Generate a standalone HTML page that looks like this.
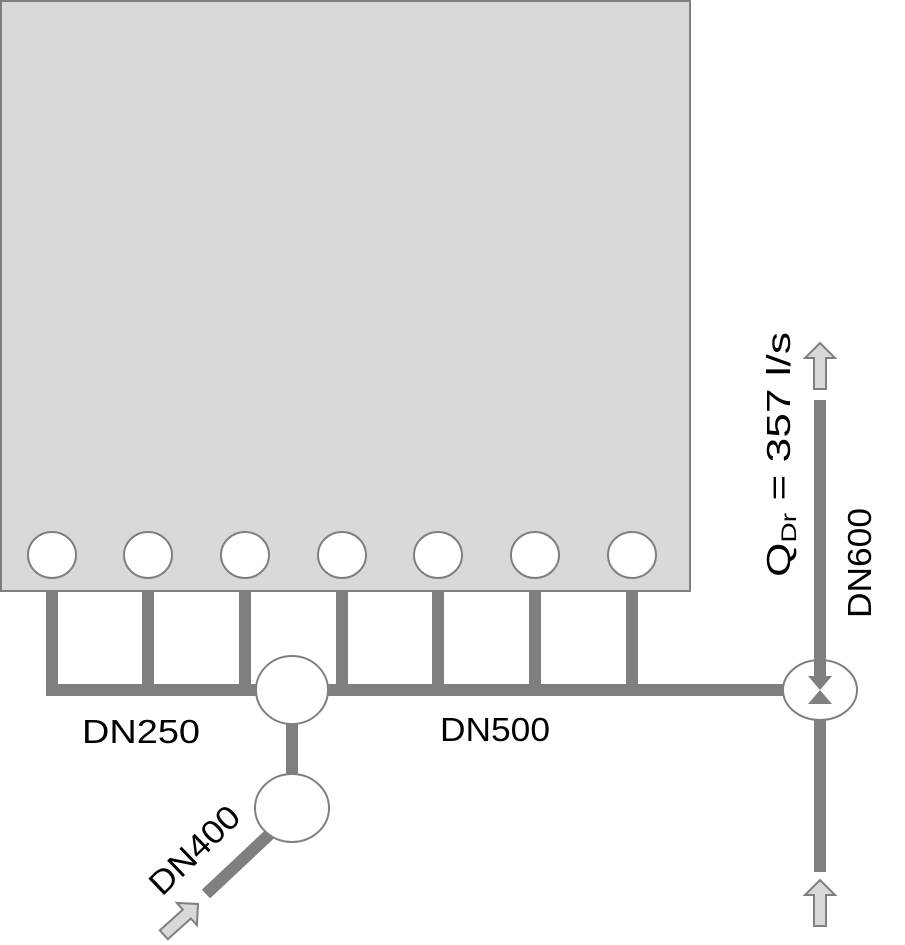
<!DOCTYPE html>
<html><head><meta charset="utf-8"><style>html,body{margin:0;padding:0;background:#fff}svg{display:block}</style></head><body>
<svg width="905" height="945" viewBox="0 0 905 945" xmlns="http://www.w3.org/2000/svg" font-family="'Liberation Sans', sans-serif">
<defs>
<path id="arr" d="M0,0 L15,15 L6,15 L6,46 L-6,46 L-6,15 L-15,15 Z" fill="#d9d9d9" stroke="#7f7f7f" stroke-width="2"/>
</defs>
<rect x="1" y="1" width="689" height="590" fill="#d9d9d9" stroke="#7f7f7f" stroke-width="2"/>
<g fill="#7f7f7f">
<rect x="46" y="591" width="12" height="105"/>
<rect x="142" y="591" width="12" height="99"/>
<rect x="239" y="591" width="12" height="99"/>
<rect x="336" y="591" width="12" height="99"/>
<rect x="432" y="591" width="12" height="99"/>
<rect x="529" y="591" width="12" height="99"/>
<rect x="626" y="591" width="12" height="99"/>
<rect x="46" y="684" width="744" height="12"/>
<rect x="286" y="720" width="12" height="60"/>
<rect x="814" y="400" width="12" height="270"/>
<rect x="814" y="720" width="12" height="152"/>
</g>
<line x1="272" y1="832" x2="206" y2="894" stroke="#7f7f7f" stroke-width="12"/>
<g fill="#fff" stroke="#7f7f7f" stroke-width="2">
<ellipse cx="52" cy="555" rx="24" ry="23"/>
<ellipse cx="148" cy="555" rx="24" ry="23"/>
<ellipse cx="245" cy="555" rx="24" ry="23"/>
<ellipse cx="342" cy="555" rx="24" ry="23"/>
<ellipse cx="438" cy="555" rx="24" ry="23"/>
<ellipse cx="535" cy="555" rx="24" ry="23"/>
<ellipse cx="632" cy="555" rx="24" ry="23"/>
<ellipse cx="292" cy="690" rx="36" ry="34"/>
<ellipse cx="292" cy="808" rx="37" ry="34"/>
<ellipse cx="820" cy="690" rx="37" ry="30"/>
</g>
<rect x="814" y="660" width="12" height="16" fill="#7f7f7f"/>
<path d="M808,676 L832,676 L820,690 Z M808,704 L832,704 L820,690 Z" fill="#7f7f7f"/>
<use href="#arr" transform="translate(820,343)"/>
<use href="#arr" transform="translate(820,880)"/>
<use href="#arr" transform="translate(198,904) rotate(48)"/>
<g font-size="33" fill="#000">
<text x="82" y="743" textLength="118" lengthAdjust="spacingAndGlyphs">DN250</text>
<text x="440" y="741" textLength="110" lengthAdjust="spacingAndGlyphs">DN500</text>
<text transform="translate(162,897) rotate(-44)" textLength="112" lengthAdjust="spacingAndGlyphs">DN400</text>
<text transform="translate(871,618) rotate(-90)" textLength="110" lengthAdjust="spacingAndGlyphs">DN600</text>
<text transform="translate(790,577) rotate(-90)" textLength="245" lengthAdjust="spacingAndGlyphs">Q<tspan font-size="21" dy="6">Dr</tspan><tspan dy="-6"> = 357 l/s</tspan></text>
</g>
</svg>
</body></html>
